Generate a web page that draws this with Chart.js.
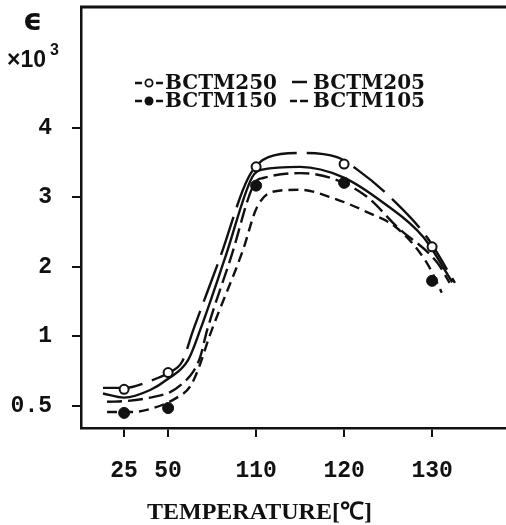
<!DOCTYPE html>
<html>
<head>
<meta charset="utf-8">
<script src="https://cdn.jsdelivr.net/npm/chart.js@4.4.1/dist/chart.umd.min.js"></script>
<style>
  html, body { margin: 0; padding: 0; background: #fff; }
  canvas { display: block; }
</style>
</head>
<body>
<canvas id="grafico" width="506" height="525"></canvas>
<script>
// eixos (valores dos rótulos)
const tempTicks = [25, 50, 110, 120, 130];
const epsTicks = [0.5, 1, 2, 3, 4];

// pontos medidos (marcadores)
const markerTemps = [25, 50, 110, 120, 130];
const bctm250Pts = [0.62, 0.74, 3.44, 3.48, 2.29];
const bctm150Pts = [0.45, 0.485, 3.17, 3.21, 1.80];

// curvas ajustadas
const bctm250T = [13, 25, 39.8, 50.6, 59.6, 67.1, 85.5, 104.6, 111.4, 115, 119.2, 121.5, 125.2, 129.4, 132.6];
const bctm250E = [0.63, 0.63, 0.68, 0.74, 0.82, 1.09, 2.14, 3.28, 3.58, 3.64, 3.58, 3.40, 3.01, 2.43, 1.77];

const bctm205T = [13, 25, 39.8, 49.4, 63.6, 71.8, 89, 107.3, 110.7, 115, 119.9, 124.5, 129, 132.3];
const bctm205E = [0.59, 0.56, 0.615, 0.69, 0.83, 1.09, 2.14, 3.29, 3.40, 3.44, 3.29, 2.92, 2.43, 1.78];

const bctm150T = [15.3, 26.7, 39.8, 51.4, 60.2, 67, 71.8, 76.6, 92.9, 109.4, 110.8, 115, 118.75, 122.6, 126, 130.6, 132];
const bctm150E = [0.53, 0.536, 0.56, 0.60, 0.665, 0.745, 0.85, 1.09, 2.14, 3.22, 3.28, 3.35, 3.27, 3.01, 2.58, 2.06, 1.77];

const bctm105T = [15.3, 30, 41.5, 56, 65, 70.4, 78.5, 101, 110.1, 112.2, 115, 118.75, 122.6, 126, 129.4, 131.1];
const bctm105E = [0.457, 0.457, 0.485, 0.56, 0.64, 0.76, 1.02, 2.24, 2.86, 3.09, 3.11, 2.99, 2.79, 2.56, 2.06, 1.63];

// o eixo X do original não é linear: 25-50 ocupa meio passo dos outros
const tickSlots = [0, 1, 3, 5, 7];
function tempToX(t) {
  const T = tempTicks, S = tickSlots, n = T.length - 1;
  if (t <= T[0]) return S[0] + (t - T[0]) / (T[1] - T[0]) * (S[1] - S[0]);
  for (let i = 1; i <= n; i++) {
    if (t <= T[i]) return S[i - 1] + (t - T[i - 1]) / (T[i] - T[i - 1]) * (S[i] - S[i - 1]);
  }
  return S[n] + (t - T[n]) / (T[n] - T[n - 1]) * (S[n] - S[n - 1]);
}
// eixo Y: 0.5 fica onde estaria o zero
function epsToY(e) {
  return e < 1 ? (e - 0.5) * 2 : e;
}
function pontos(ts, es) {
  return ts.map((t, i) => ({ x: tempToX(t), y: epsToY(es[i]) }));
}

const preto = '#111';

function curva(label, ts, es, dash) {
  return {
    label: label,
    data: pontos(ts, es),
    borderColor: preto,
    borderWidth: 2.4,
    borderDash: dash,
    pointRadius: 0,
    fill: false,
    cubicInterpolationMode: 'monotone'
  };
}

// textos livres: rótulo do eixo Y, título do eixo X, legenda
const textos = {
  id: 'textos',
  afterDraw(chart) {
    const ctx = chart.ctx;
    const area = chart.chartArea;
    ctx.save();
    ctx.fillStyle = preto;
    ctx.strokeStyle = preto;

    // moldura de cima
    ctx.lineWidth = 3;
    ctx.beginPath();
    ctx.moveTo(area.left - 1, area.top);
    ctx.lineTo(area.right, area.top);
    ctx.stroke();

    // epsilon x10^3
    ctx.textBaseline = 'alphabetic';
    ctx.textAlign = 'left';
    ctx.font = 'bold 30px "DejaVu Sans"';
    ctx.fillText('ϵ', 23, 30);
    ctx.font = 'bold 23px "Liberation Sans"';
    ctx.fillText('×10', 7, 67);
    ctx.font = 'bold 16px "Liberation Sans"';
    ctx.fillText('3', 50, 55);

    // título do eixo X
    ctx.font = 'bold 24px "Liberation Serif"';
    ctx.fillText('TEMPERATURE[℃]', 147, 519);

    // legenda
    ctx.font = 'bold 20px "DejaVu Serif"';
    ctx.fillText('BCTM250', 165, 89);
    ctx.fillText('BCTM150', 165, 107);
    ctx.fillText('BCTM205', 313, 89);
    ctx.fillText('BCTM105', 313, 107);

    ctx.lineWidth = 2.5;
    const traco = (x1, x2, y) => {
      ctx.beginPath();
      ctx.moveTo(x1, y);
      ctx.lineTo(x2, y);
      ctx.stroke();
    };
    traco(135, 142, 83);
    traco(156, 163, 83);
    traco(135, 142, 101);
    traco(156, 163, 101);
    traco(292, 307, 82);
    traco(290, 297, 101);
    traco(300, 308, 101);

    ctx.lineWidth = 1.8;
    ctx.beginPath();
    ctx.arc(149, 83, 3.6, 0, Math.PI * 2);
    ctx.fillStyle = '#fff';
    ctx.fill();
    ctx.stroke();
    ctx.fillStyle = preto;
    ctx.beginPath();
    ctx.arc(149, 101, 4.5, 0, Math.PI * 2);
    ctx.fill();

    ctx.restore();
  }
};

const ctx = document.getElementById('grafico').getContext('2d');
const chart = new Chart(ctx, {
  type: 'line',
  data: {
    datasets: [
      {
        label: 'BCTM250 pontos',
        data: pontos(markerTemps, bctm250Pts),
        showLine: false,
        pointStyle: 'circle',
        pointRadius: 4.5,
        pointBorderWidth: 2,
        pointBorderColor: preto,
        pointBackgroundColor: '#fff'
      },
      {
        label: 'BCTM150 pontos',
        data: pontos(markerTemps, bctm150Pts),
        showLine: false,
        pointStyle: 'circle',
        pointRadius: 5.5,
        pointBorderWidth: 1,
        pointBorderColor: preto,
        pointBackgroundColor: preto
      },
      curva('BCTM250', bctm250T, bctm250E, [40, 10]),
      curva('BCTM205', bctm205T, bctm205E, []),
      curva('BCTM150', bctm150T, bctm150E, [15, 6]),
      curva('BCTM105', bctm105T, bctm105E, [10, 6])
    ]
  },
  options: {
    responsive: false,
    animation: false,
    layout: { autoPadding: false, padding: { top: 7, right: 0, left: 0, bottom: 0 } },
    plugins: {
      legend: { display: false },
      tooltip: { enabled: false }
    },
    scales: {
      x: {
        type: 'linear',
        min: -0.98,
        max: 8.68,
        afterBuildTicks(scale) {
          scale.ticks = tickSlots.map(v => ({ value: v }));
        },
        afterFit(scale) {
          scale.height = 97;
          scale.paddingLeft = 0;
          scale.paddingRight = 0;
        },
        ticks: {
          autoSkip: false,
          maxRotation: 0,
          padding: 20,
          color: preto,
          font: { family: '"Liberation Mono"', size: 23, weight: 'bold' },
          callback: (v, i) => String(tempTicks[i])
        },
        grid: {
          drawOnChartArea: false,
          drawTicks: true,
          tickLength: 9,
          color: preto,
          lineWidth: 2
        },
        border: { display: true, color: preto, width: 2.5 }
      },
      y: {
        type: 'linear',
        min: -0.317,
        max: 5.74,
        afterBuildTicks(scale) {
          scale.ticks = epsTicks.map(e => ({ value: epsToY(e) }));
        },
        afterFit(scale) {
          scale.width = 81;
          scale.paddingTop = 0;
          scale.paddingBottom = 0;
        },
        ticks: {
          autoSkip: false,
          padding: 20,
          color: preto,
          font: { family: '"Liberation Mono"', size: 23, weight: 'bold' },
          callback: (v, i) => String(epsTicks[i])
        },
        grid: {
          drawOnChartArea: false,
          drawTicks: true,
          tickLength: 9,
          color: preto,
          lineWidth: 2
        },
        border: { display: true, color: preto, width: 2.5 }
      }
    }
  },
  plugins: [textos]
});
</script>
</body>
</html>
